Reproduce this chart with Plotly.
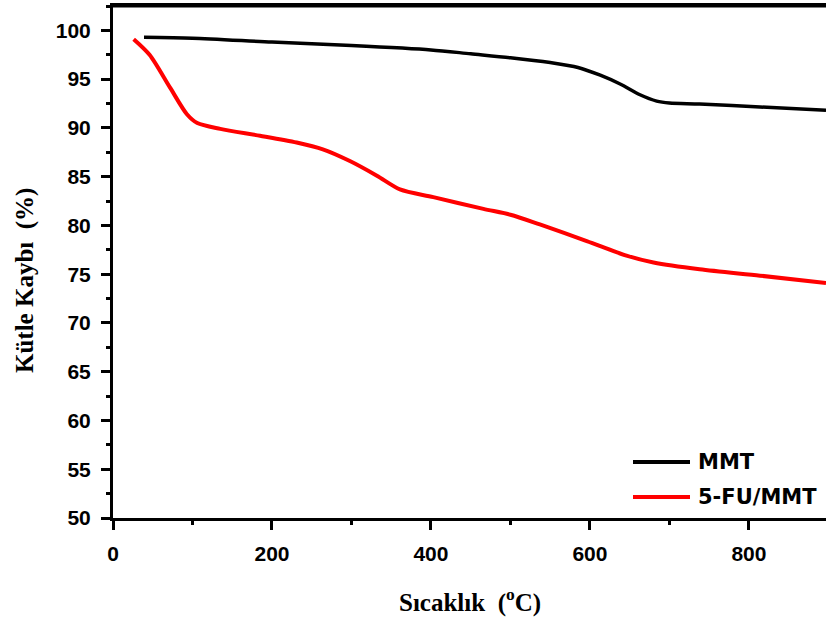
import plotly.graph_objects as go

# MMT
mmt_T = [39, 100, 200, 300, 400, 450, 500, 550, 585, 613, 638, 663, 684, 700, 738, 814, 897]
mmt_W = [99.3, 99.2, 98.8, 98.45, 98.0, 97.6, 97.2, 96.7, 96.2, 95.4, 94.5, 93.4, 92.75, 92.55, 92.45, 92.15, 91.8]

# 5-FU/MMT
fu_T = [26, 46, 72, 93, 106, 135, 185, 231, 264, 298, 332, 361, 403, 466, 500, 537, 596, 646, 680, 738, 814, 897]
fu_W = [99.1, 97.5, 94.1, 91.4, 90.5, 89.9, 89.2, 88.5, 87.8, 86.6, 85.1, 83.7, 82.9, 81.7, 81.1, 80.1, 78.4, 76.9, 76.2, 75.5, 74.85, 74.1]

series_names = ["MMT", "5-FU/MMT"]
series_colors = ["#000000", "#ff0000"]

x_title = "Sıcaklık  (<sup>o</sup>C)"
y_title = "Kütle Kaybı  (%)"

fig = go.Figure()
fig.add_trace(go.Scatter(x=mmt_T, y=mmt_W, mode="lines", name=series_names[0],
                         line=dict(color=series_colors[0], width=3.5, shape="spline", smoothing=0.8)))
fig.add_trace(go.Scatter(x=fu_T, y=fu_W, mode="lines", name=series_names[1],
                         line=dict(color=series_colors[1], width=4, shape="spline", smoothing=0.8)))

tickfont = dict(family="Liberation Sans, Arial, sans-serif", size=21, color="black", weight="bold")
fig.update_xaxes(range=[0, 897], dtick=200, tick0=0, showline=True, linewidth=3, linecolor="black",
                 mirror=True, ticks="outside", ticklen=9, tickwidth=3, tickcolor="black",
                 showgrid=False, zeroline=False, tickfont=tickfont, ticklabelstandoff=6,
                 minor=dict(dtick=100, ticks="outside", ticklen=4, tickwidth=3, tickcolor="black"))
fig.update_yaxes(range=[50, 102.5], dtick=5, tick0=50, showline=True, linewidth=3, linecolor="black",
                 ticks="outside", ticklen=9, tickwidth=3, tickcolor="black",
                 showgrid=False, zeroline=False, tickfont=tickfont, ticklabelstandoff=6,
                 minor=dict(dtick=2.5, ticks="outside", ticklen=4, tickwidth=3, tickcolor="black"))

titlefont = dict(family="Liberation Serif, Times New Roman, serif", size=25, color="black", weight="bold")
legfont = dict(family="DejaVu Sans, Verdana, sans-serif", size=21, color="black", weight="bold")

W, H = 826, 619
L, R, T, B = 113, 0, 6, 619 - 518
pw, ph = W - L - R, H - T - B

def px2paper(x, y):
    # x, y are pixel positions in the picture
    return (x - L) / pw, (H - B - y) / ph

annotations = []
ax, ay = px2paper(470, 600)
annotations.append(dict(text=x_title, x=ax, y=ay, xref="paper", yref="paper",
                        xanchor="center", yanchor="middle", showarrow=False, font=titlefont))
ax, ay = px2paper(25, 281)
annotations.append(dict(text=y_title, x=ax, y=ay, xref="paper", yref="paper", textangle=-90,
                        xanchor="center", yanchor="middle", showarrow=False, font=titlefont))
shapes = [dict(type="line", xref="paper", yref="paper", x0=0, x1=1, y0=1, y1=1,
               line=dict(color="black", width=3))]
leg_y = [462, 497]
for name, color, yy in zip(series_names, series_colors, leg_y):
    x0, y0 = px2paper(633, yy)
    x1, _ = px2paper(690, yy)
    shapes.append(dict(type="line", xref="paper", yref="paper", x0=x0, x1=x1, y0=y0, y1=y0,
                       line=dict(color=color, width=4)))
    tx, ty = px2paper(696, yy)
    annotations.append(dict(text=name, x=tx, y=ty, xref="paper", yref="paper",
                            showarrow=False, font=legfont, xanchor="left", yanchor="middle"))

fig.update_layout(width=W, height=H, margin=dict(l=L, r=R, t=T, b=B),
                  plot_bgcolor="white", paper_bgcolor="white", showlegend=False,
                  annotations=annotations, shapes=shapes)
fig.write_html("out.html", config={"displayModeBar": False},
               post_script="document.body.style.margin='0px';document.body.style.overflow='hidden';")
